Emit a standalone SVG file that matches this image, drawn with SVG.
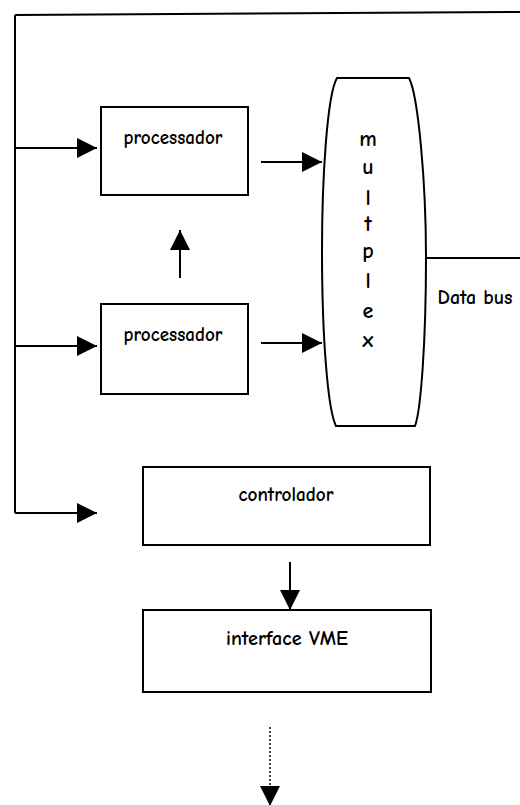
<svg xmlns="http://www.w3.org/2000/svg" width="520" height="805" viewBox="0 0 520 805">
<style>
.box{fill:#fff;stroke:#000;stroke-width:2}
.ln{fill:none;stroke:#000;stroke-width:2}
.ar{fill:none;stroke:#000;stroke-width:2;marker-end:url(#ah)}
.dot{fill:none;stroke:#000;stroke-width:1.5;stroke-dasharray:2,2;marker-end:url(#ah)}
text{font-family:"Comic Neue","Liberation Sans","DejaVu Sans",sans-serif;font-size:21px;font-weight:700;fill:#000;text-anchor:middle}
.mx{font-size:22px}
</style>
<defs>
<marker id="ah" markerUnits="userSpaceOnUse" markerWidth="20" markerHeight="20" refX="20" refY="10" orient="auto">
<path d="M0,0 L20,10 L0,20 z" fill="#000"/>
</marker>
</defs>
<g id="connectors">
<path class="ln" d="M15,15 L520,12"/>
<path class="ln" d="M15,15 L15,513"/>
<path class="ar" d="M15,148 L97,148"/>
<path class="ar" d="M15,346 L97,346"/>
<path class="ar" d="M15,513 L97,513"/>
<path class="ar" d="M261,162 L322,162"/>
<path class="ar" d="M261,343 L322,343"/>
<path class="ar" d="M180,278 L180,230"/>
<path class="ln" d="M426,258 L520,258"/>
<path class="ar" d="M290,562 L290,610"/>
<path class="dot" d="M270,727 L270,806"/>
</g>
<g id="processador1">
<rect class="box" x="101" y="107" width="147" height="88"/>
<text x="173" y="144" textLength="99" lengthAdjust="spacingAndGlyphs">processador</text>
</g>
<g id="processador2">
<rect class="box" x="101" y="304" width="147" height="90"/>
<text x="173" y="341" textLength="99" lengthAdjust="spacingAndGlyphs">processador</text>
</g>
<g id="multiplex">
<path class="box" d="M337,78 L409,78 C418,95 426,180 426,258 C426,340 421,410 415,426 L336,426 C328,410 322,340 322,250 C322,180 327,95 337,78 Z"/>
<text class="mx" x="368" y="146">m</text>
<text class="mx" x="368" y="174">u</text>
<text class="mx" x="368" y="205">l</text>
<text class="mx" x="368" y="231">t</text>
<text class="mx" x="368" y="258">p</text>
<text class="mx" x="368" y="288">l</text>
<text class="mx" x="368" y="318">e</text>
<text class="mx" x="368" y="347">x</text>
</g>
<g id="databus">
<text x="475" y="304" textLength="75" lengthAdjust="spacingAndGlyphs">Data bus</text>
</g>
<g id="controlador">
<rect class="box" x="143" y="467" width="287" height="78"/>
<text x="286" y="501" textLength="95" lengthAdjust="spacingAndGlyphs">controlador</text>
</g>
<g id="interfaceVME">
<rect class="box" x="143" y="610" width="288" height="82"/>
<text x="287" y="645" textLength="122" lengthAdjust="spacingAndGlyphs">interface VME</text>
</g>
</svg>
